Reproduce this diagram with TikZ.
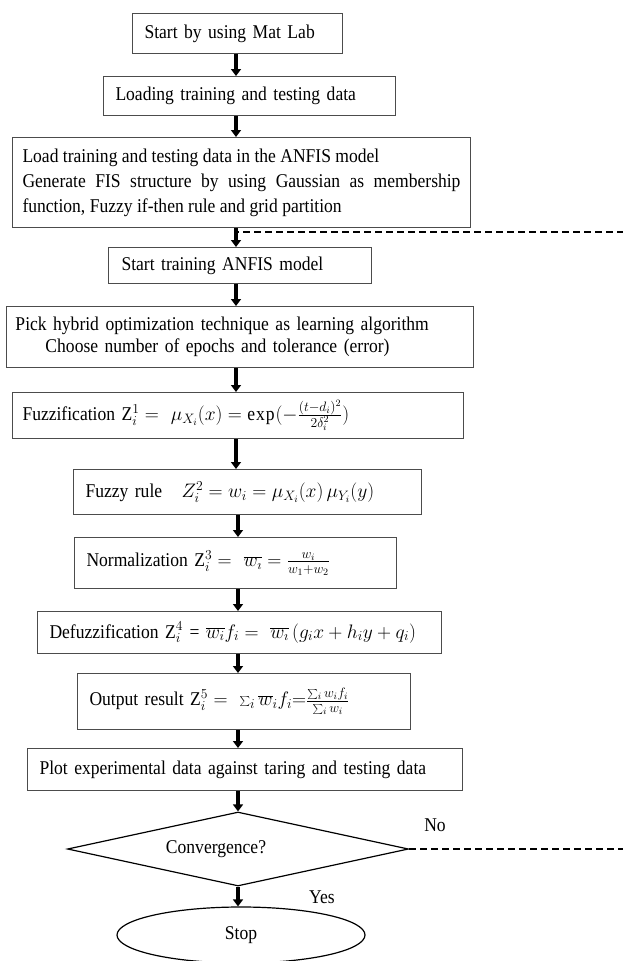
\documentclass[tikz,border=0pt]{standalone}
\usepackage{fix-cm}
\usepackage{fontspec}
\setmainfont[FakeStretch=0.9]{Liberation Serif}
\usetikzlibrary{arrows.meta,shapes.geometric}

\tikzset{
  stepbox/.style={draw=black!70, line width=1pt, rectangle, anchor=north west,
    align=left, inner xsep=12pt, inner ysep=0pt},
  decision/.style={draw, line width=1.2pt, diamond, aspect=4.6, inner sep=0pt,
    minimum width=341pt, minimum height=74pt},
  terminal/.style={draw, line width=1.2pt, ellipse, inner sep=0pt,
    minimum width=248pt, minimum height=56pt},
  flow/.style={line width=3.5pt, -{Triangle[width=10pt,length=7pt]}},
  loopback/.style={line width=2pt, dash pattern=on 7pt off 4pt},
}

\begin{document}
\begin{tikzpicture}[x=1pt, y=-1pt, font=\fontsize{19.5}{25}\selectfont]
  \useasboundingbox (0,0) rectangle (623,961);
  \coordinate (spine) at (236,0);

  % process steps
  \node[stepbox, minimum width=210pt, minimum height=40pt, text width=186pt] (b1) at (132,13)
    {Start by using Mat Lab};
  \node[stepbox, minimum width=292pt, minimum height=39pt, text width=268pt] (b2) at (103,76)
    {Loading training and testing data};
  \node[stepbox, inner xsep=10pt, minimum width=458pt, minimum height=90pt, text width=438pt,
    align=justify] (b3) at (12,137)
    {Load training and testing data in the ANFIS model\\
     Generate FIS structure by using Gaussian as membership\linebreak
     function, Fuzzy if-then rule and grid partition};
  \node[stepbox, inner xsep=13pt, minimum width=263pt, minimum height=36pt, text width=237pt] (b4) at (108,247)
    {Start training ANFIS model};
  \node[stepbox, inner xsep=9pt, minimum width=467pt, minimum height=61pt, text width=449pt,
    font=\fontsize{19.5}{22}\selectfont] (b5) at (6,306)
    {Pick hybrid optimization technique as learning algorithm\\
     \hspace*{30pt}Choose number of epochs and tolerance (error)};
  \node[stepbox, inner xsep=10pt, minimum width=451pt, minimum height=46pt, text width=431pt] (b6) at (12,392)
    {Fuzzification Z$_i^1 =\ \mu_{X_i}(x) = \exp(-\frac{(t-d_i)^2}{2\delta_i^2})$};
  \node[stepbox, minimum width=348pt, minimum height=45pt, text width=324pt] (b7) at (73,469)
    {Fuzzy rule\quad $Z_i^2 = w_i = \mu_{X_i}(x)\,\mu_{Y_i}(y)$};
  \node[stepbox, minimum width=322pt, minimum height=51pt, text width=298pt] (b8) at (74,537)
    {Normalization Z$_i^3 =\ \overline{w_\imath} = \frac{w_i}{w_1+w_2}$};
  \node[stepbox, minimum width=404pt, minimum height=42pt, text width=380pt] (b9) at (37,611)
    {Defuzzification Z$_i^4$ = $\overline{w_i}f_i =\ \overline{w_\imath}\,(g_ix+h_iy+q_i)$};
  \node[stepbox, minimum width=333pt, minimum height=56pt, text width=309pt] (b10) at (77,673)
    {Output result Z$_i^5 =\ \sum_i \overline{w}_i f_i{=}\frac{\sum_i w_if_i}{\sum_i w_i}$};
  \node[stepbox, minimum width=435pt, minimum height=42pt, text width=411pt] (b11) at (27,748)
    {Plot experimental data against taring and testing data};

  \node[decision] (dec) at (238,849) {Convergence?\hspace*{44pt}};
  \node[terminal] (stop) at (241,935) {Stop};

  \node (no) at (435,825) {No};
  \node (yes) at (322,897) {Yes};

  % main flow
  \draw[flow] (b1.south -| spine) -- (b2.north -| spine);
  \draw[flow] (b2.south -| spine) -- (b3.north -| spine);
  \draw[flow] (b3.south -| spine) -- (b4.north -| spine);
  \draw[flow] (b4.south -| spine) -- (b5.north -| spine);
  \draw[flow] (b5.south -| spine) -- (b6.north -| spine);
  \draw[flow] (b6.south -| spine) -- (b7.north -| spine);
  \draw[flow] (b7.south -| dec) -- (b8.north -| dec);
  \draw[flow] (b8.south -| dec) -- (b9.north -| dec);
  \draw[flow] (b9.south -| dec) -- (b10.north -| dec);
  \draw[flow] (b10.south -| dec) -- (b11.north -| dec);
  \draw[flow] (b11.south -| dec) -- (dec.north);
  \draw[flow] (dec.south) -- (stop.north -| dec.south);

  % back to training when not converged
  \coordinate (merge) at (238,232);
  \coordinate (edge) at (626,0);
  \draw[loopback] (dec.east) -- (dec.east -| edge) |- (merge);
\end{tikzpicture}
\end{document}
